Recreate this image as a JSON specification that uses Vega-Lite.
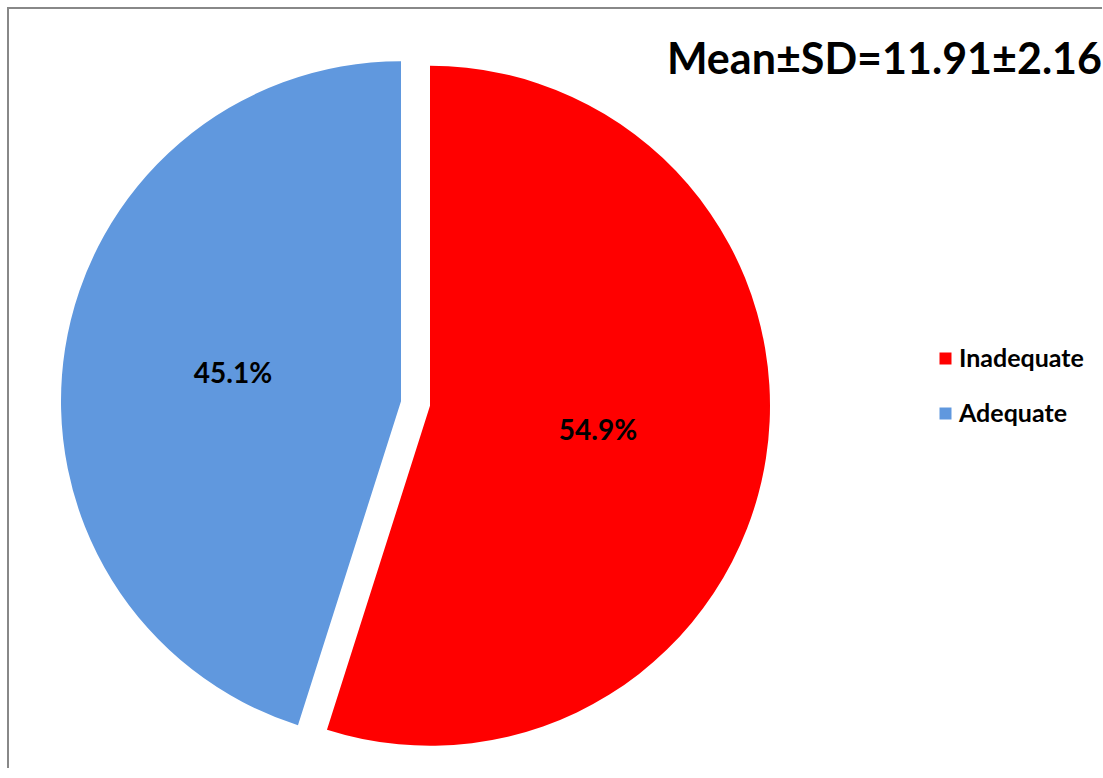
{
  "$schema": "https://vega.github.io/schema/vega-lite/v6.json",
  "autosize": {"type": "pad"},
  "padding": {"left": 7, "top": 7, "right": 0, "bottom": 0},
  "background": "white",
  "datasets": {
    "slices": [
      {"category": "Inadequate", "value": 54.9, "order": 1, "label": "54.9%"},
      {"category": "Adequate", "value": 45.1, "order": 2, "label": "45.1%"}
    ],
    "heading": [
      {"t": "Mean±SD=11.91±2.16"}
    ]
  },
  "spacing": 0,
  "bounds": "flush",
  "hconcat": [
    {
      "width": 815,
      "height": 760,
      "data": {"name": "slices"},
      "view": {"stroke": "#888888", "strokeWidth": 2, "strokeDash": [815, 1575]},
      "encoding": {
        "theta": {"field": "value", "type": "quantitative", "stack": true},
        "order": {"field": "order", "type": "quantitative"},
        "color": {
          "field": "category", "type": "nominal",
          "scale": {"domain": ["Inadequate", "Adequate"], "range": ["#FF0000", "#6098DE"]},
          "legend": {"orient": "none", "legendX": 925, "legendY": 338, "title": null, "symbolType": "square", "symbolSize": 144, "symbolStrokeWidth": 0, "labelFont": "Lato", "labelFontSize": 25, "labelFontWeight": "bold", "labelColor": "black", "rowPadding": 29, "padding": 0, "labelOffset": 1}
        }
      },
      "layer": [
        {
          "mark": {"type": "arc", "radius": 340, "xOffset": 14.5, "yOffset": 17.8},
          "encoding": {"opacity": {"condition": {"test": "datum.category === 'Inadequate'", "value": 1}, "value": 0}}
        },
        {
          "mark": {"type": "arc", "radius": 340, "xOffset": -14.5, "yOffset": 13.2},
          "encoding": {"opacity": {"condition": {"test": "datum.category === 'Adequate'", "value": 1}, "value": 0}}
        },
        {
          "mark": {"type": "text", "radius": 170, "xOffset": 14.5, "yOffset": 17.8, "font": "Lato", "fontSize": 28, "fontWeight": "bold"},
          "encoding": {
            "text": {"condition": {"test": "datum.category === 'Inadequate'", "field": "label"}, "value": ""},
            "color": {"value": "black"}
          }
        },
        {
          "mark": {"type": "text", "radius": 170, "xOffset": -14.5, "yOffset": 13.2, "font": "Lato", "fontSize": 28, "fontWeight": "bold"},
          "encoding": {
            "text": {"condition": {"test": "datum.category === 'Adequate'", "field": "label"}, "value": ""},
            "color": {"value": "black"}
          }
        }
      ]
    },
    {
      "width": 279,
      "height": 760,
      "data": {"name": "heading"},
      "view": {"stroke": "#888888", "strokeWidth": 2, "strokeDash": [279, 5000]},
      "mark": {"type": "text", "align": "right", "baseline": "alphabetic", "dy": 66, "font": "Lato", "fontSize": 43, "fontWeight": "bold", "color": "black"},
      "encoding": {
        "text": {"field": "t", "type": "nominal"},
        "x": {"value": "width"},
        "y": {"value": 0}
      }
    }
  ]
}
